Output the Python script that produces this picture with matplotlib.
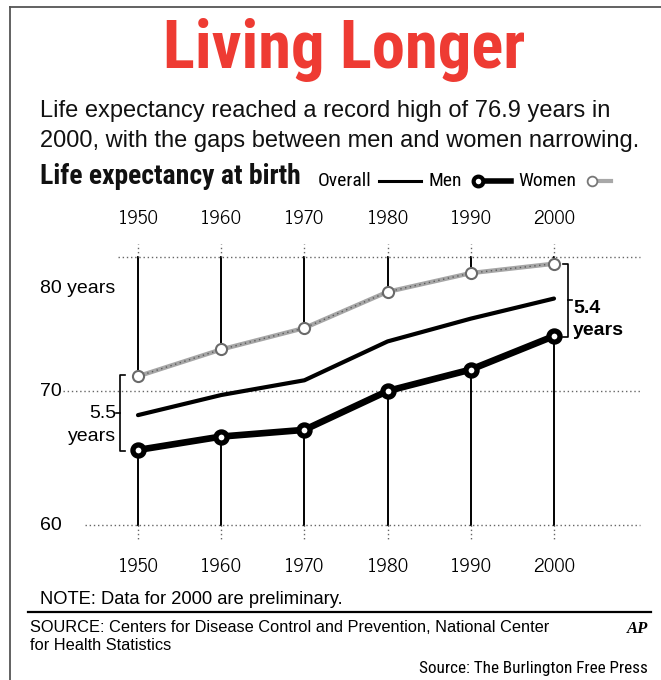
import matplotlib
matplotlib.use("Agg")
import matplotlib.pyplot as plt
from matplotlib.lines import Line2D

years = [1950, 1960, 1970, 1980, 1990, 2000]
women = [71.1, 73.1, 74.7, 77.4, 78.8, 79.5]
overall = [68.2, 69.7, 70.8, 73.7, 75.4, 76.9]
men = [65.6, 66.6, 67.1, 70.0, 71.6, 74.1]
year_labels = ["1950", "1960", "1970", "1980", "1990", "2000"]
gap_1950 = "5.5"
gap_2000 = "5.4"

W, H, DPI = 661, 680, 100
fig = plt.figure(figsize=(W / DPI, H / DPI), dpi=DPI)
fig.patch.set_facecolor("white")

def fx(x):
    return x / W

def fy(y):
    return 1 - y / H

COND = ["Roboto Condensed", "DejaVu Sans"]
NEWS = ["News Cycle", "DejaVu Sans"]
SANS = ["Liberation Sans", "DejaVu Sans"]

# frame
fig.add_artist(Line2D([fx(10), fx(10)], [fy(7), fy(680)], color="#555555", lw=1.3))
fig.add_artist(Line2D([fx(10), fx(661)], [fy(7), fy(7)], color="#555555", lw=1.3))

# title & subtitle
fig.text(fx(344), fy(50), "Living Longer", color="#ee3b33", fontsize=48,
         fontweight="bold", family=COND, ha="center", va="center")
fig.text(fx(40), fy(111), "Life expectancy reached a record high of 76.9 years in",
         fontsize=17, family=SANS, ha="left", va="center", color="#111111")
fig.text(fx(40), fy(141), "2000, with the gaps between men and women narrowing.",
         fontsize=17, family=SANS, ha="left", va="center", color="#111111")

# legend row
fig.text(fx(40), fy(177), "Life expectancy at birth", fontsize=20, fontweight="heavy",
         family=COND, ha="left", va="center", color="#111111")
fig.text(fx(318), fy(181), "Overall", fontsize=14, family=COND, ha="left", va="center")
fig.add_artist(Line2D([fx(379), fx(421)], [fy(181), fy(181)], color="black", lw=2.2))
fig.text(fx(428), fy(181), "Men", fontsize=14, family=COND, ha="left", va="center")
fig.add_artist(Line2D([fx(478), fx(511)], [fy(181), fy(181)], color="black", lw=4))
fig.add_artist(Line2D([fx(478)], [fy(181)], marker="o", ms=7, mew=3,
                      mfc="white", mec="black", color="black"))
fig.text(fx(518), fy(181), "Women", fontsize=14, family=COND, ha="left", va="center")
fig.add_artist(Line2D([fx(592), fx(611)], [fy(181), fy(181)], color="#a8a8a8", lw=3))
fig.add_artist(Line2D([fx(592)], [fy(181)], marker="o", ms=7, mew=1.3,
                      mfc="white", mec="#777777", color="#a8a8a8"))

# main axes (pixel box 25..655 x 240..545)
L, R, T, B = 25, 655, 240, 545
ax = fig.add_axes([fx(L), fy(B), (R - L) / W, (B - T) / H])
pxx = 416 / 50.0
pxy = 268 / 20.0
ax.set_xlim(1950 - (138 - L) / pxx, 2000 + (R - 554) / pxx)
ax.set_ylim(60 - (B - 525) / pxy, 80 + (257 - T) / pxy)
for s in ax.spines.values():
    s.set_visible(False)
ax.set_yticks([])
ax.set_xticks(years)
ax.set_xticklabels(year_labels)
ax.tick_params(axis="x", length=0, labeltop=True, labelbottom=True, pad=9,
               labelsize=13.5)
for lab in ax.get_xticklabels():
    lab.set_family(NEWS)

dot = dict(color="#666666", lw=1.0, linestyle=(0, (1, 2)))
# horizontal dotted reference lines
ax.plot([1947.6, 2010.3], [80, 80], **dot, zorder=1)
ax.plot([1941.0, 2010.3], [70, 70], **dot, zorder=1)
ax.plot([1943.6, 2010.3], [60, 60], **dot, zorder=1)

top = 81.0
bot = 58.85
for x, w, m in zip(years, women, men):
    if w < 80:
        ax.plot([x, x], [w, 80], color="black", lw=1.4, zorder=2)
    ax.plot([x, x], [80, top], **dot, zorder=2)
    ax.plot([x, x], [m, 60], color="black", lw=1.4, zorder=2)
    ax.plot([x, x], [60, bot], **dot, zorder=2)

# series
ax.plot(years, women, color="#a6a6a6", lw=3.2, zorder=3, solid_capstyle="round")
ax.plot(years, women, color="#5a5a5a", lw=1.0, linestyle=(0, (1, 2.5)), zorder=3)
ax.plot(years, women, linestyle="none", marker="o", ms=8, mew=1.5,
        mfc="white", mec="#6a6a6a", zorder=5)
ax.plot(years, overall, color="black", lw=3.0, zorder=3, solid_capstyle="round")
ax.plot(years, men, color="black", lw=4.8, zorder=4, solid_capstyle="round")
ax.plot(years, men, linestyle="none", marker="o", ms=8, mew=3.8,
        mfc="white", mec="black", zorder=6)

# y labels
x0 = 1950 - (138 - 40) / pxx
ax.text(x0, 80 - (289 - 257) / pxy, "80 years", fontsize=14,
        family=SANS, ha="left", va="center")
ax.text(x0, 70, "70", fontsize=14, family=SANS, ha="left", va="center")
ax.text(x0, 60, "60", fontsize=14, family=SANS, ha="left", va="center")

# left bracket
bx = 1950 - (138 - 120) / pxx
tk = 5 / pxx
ax.plot([bx + tk, bx, bx, bx + tk], [women[0] + 0.1, women[0] + 0.1, men[0] - 0.1, men[0] - 0.1],
        color="black", lw=1.2)
mid = (women[0] + men[0]) / 2
ax.plot([bx, bx - tk * 0.8], [mid, mid], color="black", lw=1.2)
ax.text(bx - tk * 0.8, 68.3, gap_1950, fontsize=14, family=SANS, ha="right", va="center")
ax.text(bx - tk * 0.8, 66.6, "years", fontsize=14, family=SANS, ha="right", va="center")

# right bracket
rx = 2000 + (568 - 554) / pxx
ax.plot([rx - tk, rx, rx, rx - tk], [women[-1], women[-1], men[-1] - 0.1, men[-1] - 0.1],
        color="black", lw=1.2)
mid2 = (women[-1] + men[-1]) / 2
ax.plot([rx, rx + tk * 0.9], [mid2, mid2], color="black", lw=1.2)
ax.text(rx + tk * 1.1, mid2 - 0.65, gap_2000, fontsize=14, fontweight="bold",
        family=SANS, ha="left", va="center")
ax.text(rx + tk * 0.9, mid2 - 2.25, "years", fontsize=14, fontweight="bold",
        family=SANS, ha="left", va="center")

# footer
fig.text(fx(40), fy(600), "NOTE: Data for 2000 are preliminary.", fontsize=13.2,
         family=SANS, ha="left", va="center")
fig.add_artist(Line2D([fx(28), fx(651)], [fy(612), fy(612)], color="black", lw=1.6))
fig.text(fx(30), fy(627), "SOURCE: Centers for Disease Control and Prevention, National Center",
         fontsize=11.8, family=SANS, ha="left", va="center")
fig.text(fx(30), fy(646), "for Health Statistics", fontsize=11.8, family=SANS,
         ha="left", va="center")
fig.text(fx(648), fy(629), "AP", fontsize=12, fontweight="bold", style="italic",
         family=["Liberation Serif", "DejaVu Serif"], ha="right", va="center")
fig.text(fx(648), fy(668), "Source: The Burlington Free Press", fontsize=12.3,
         family=COND, ha="right", va="center")

fig.savefig("out.png", dpi=DPI, facecolor="white")
